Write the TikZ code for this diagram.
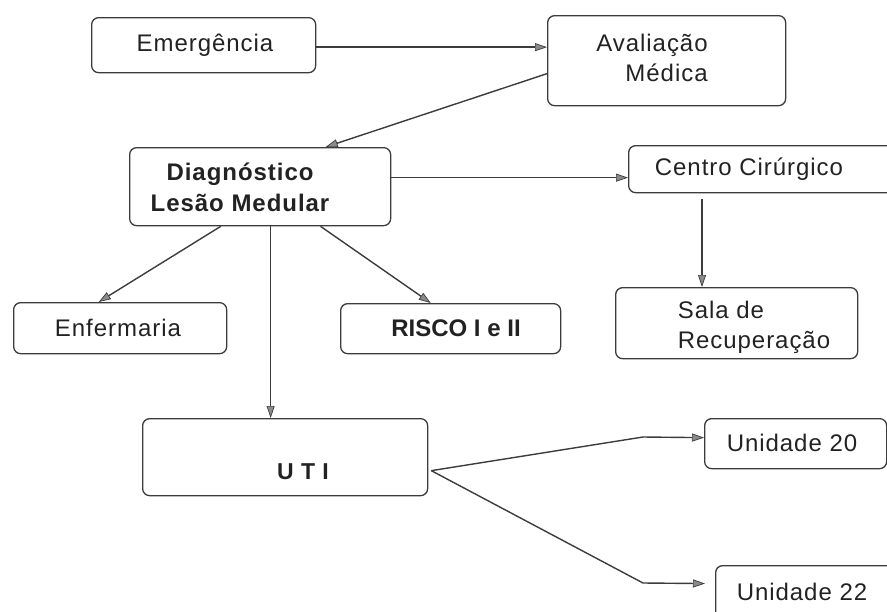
\documentclass[tikz,border=0pt]{standalone}
\usepackage{fontspec}
\setmainfont{Liberation Sans}[LetterSpace=4]
\usetikzlibrary{arrows.meta,calc}
\definecolor{lc}{HTML}{3C3C3C}
\definecolor{txt}{HTML}{222222}
\definecolor{tipc}{HTML}{8A8A8A}
\begin{document}
\begin{tikzpicture}[x=1pt,y=-1pt,
  box/.style={draw=lc, rounded corners=7pt, line width=1.3pt, inner sep=0pt, anchor=north west},
  lbl/.style={font=\fontsize{24}{30}\selectfont, inner sep=0pt, text=txt},
  conn/.style={draw=lc, line width=1.4pt, -{Triangle[length=12pt,width=8pt,color=lc,fill=tipc,line width=0.7pt]}},
]
\path[use as bounding box] (0,0) rectangle (887,611);
\clip (0,0) rectangle (887,611);

% boxes
\node[box, minimum width=224pt, minimum height=55pt] (emerg) at (91,17) {};
\node[box, minimum width=238pt, minimum height=90pt] (aval) at (547,15) {};
\node[box, minimum width=261pt, minimum height=78pt] (diag) at (129,147) {};
\node[box, minimum width=280pt, minimum height=47pt] (centro) at (628,145) {};
\node[box, minimum width=242pt, minimum height=71pt] (sala) at (615,287) {};
\node[box, minimum width=213pt, minimum height=51pt] (enf) at (13,302) {};
\node[box, minimum width=220pt, minimum height=50pt] (risco) at (340,303) {};
\node[box, minimum width=285pt, minimum height=77pt] (uti) at (142,418) {};
\node[box, minimum width=182pt, minimum height=50pt] (u20) at (704,418) {};
\node[box, minimum width=200pt, minimum height=60pt] (u22) at (715,565) {};

% texts
\node[lbl] (emerg-t) at (205,45) {Emergência};
\node[lbl, align=right] (aval-t) at (652,58) {Avaliação\\Médica};
\node[lbl, align=center, font=\fontsize{24}{31}\selectfont\bfseries] (diag-t) at (240,187) {Diagnóstico\\Lesão Medular};
\node[lbl] (centro-t) at (749,169) {Centro Cirúrgico};
\node[lbl, align=left] (sala-t) at (754,327) {Sala de\\Recuperação};
\node[lbl] (enf-t) at (118,328) {Enfermaria};
\node[lbl, font=\fontsize{24}{30}\selectfont\bfseries\addfontfeature{LetterSpace=0}] (risco-t) at (456,328) {RISCO I e II};
\node[lbl, font=\fontsize{23}{30}\selectfont\bfseries] (uti-t) at (303,472) {U T I};
\node[lbl] (u20-t) at (792,443) {Unidade 20};
\node[lbl] (u22-t) at (802,592) {Unidade 22};

% connector coordinates
\coordinate (a1) at ($(emerg.east)+(0,2)$);
\coordinate (a2) at ($(aval.west)+(0,13)$);
\coordinate (d1) at ($(diag.north west)!0.75!(diag.north east)$);
\coordinate (c1) at ($(centro.west)+(0,8.5)$);
\coordinate (c2) at ($(centro.south west)+(74,6)$);
\coordinate (ds1) at ($(diag.south west)!0.35!(diag.south east)$);
\coordinate (ds2) at ($(diag.south west)!0.54!(diag.south east)$);
\coordinate (ds3) at ($(diag.south west)!0.73!(diag.south east)$);
\coordinate (e1) at ($(enf.north west)!0.40!(enf.north east)$);
\coordinate (r1) at ($(risco.north west)!0.41!(risco.north east)$);
\coordinate (t0) at ($(uti.east)+(3,13.5)$);
\coordinate (b20) at (643,437);
\coordinate (b22) at (643,583);
\coordinate (e20) at ($(u20.west)+(0,-6)$);
\coordinate (e22) at ($(u22.west)+(0,-12)$);

% connectors
\draw[conn] (a1) -- (a1 -| aval.west);
\draw[conn] (a2) -- (d1);
\draw[conn] (c1 -| diag.east) -- (c1);
\draw[conn] (c2) -- (c2 |- sala.north);
\draw[conn] (ds1) -- (e1);
\draw[conn] (ds3) -- (r1);
\draw[conn] (ds2) -- (ds2 |- uti.north);
\draw[conn] (t0) -- (b20) -- (e20);
\draw[conn, shorten >=10pt] (t0) -- (b22) -- (e22);
\end{tikzpicture}
\end{document}
